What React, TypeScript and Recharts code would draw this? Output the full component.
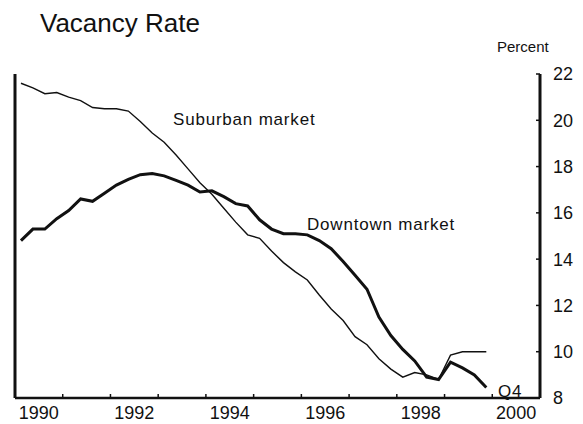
import React from 'react';
import { LineChart, Line, XAxis, YAxis } from 'recharts';

// quarterly, 1990 Q1 .. 1999 Q4
const years = [1990, 1991, 1992, 1993, 1994, 1995, 1996, 1997, 1998, 1999];
const quarterNames = ['Q1', 'Q2', 'Q3', 'Q4'];

const suburban = [
  21.6, 21.4, 21.15, 21.2, 21.0, 20.85, 20.55, 20.5, 20.5, 20.4,
  19.95, 19.45, 19.05, 18.5, 17.9, 17.3, 16.8, 16.2, 15.6, 15.05,
  14.9, 14.35, 13.85, 13.45, 13.1, 12.45, 11.85, 11.35, 10.65, 10.3,
  9.7, 9.25, 8.9, 9.1, 9.0, 8.8, 9.85, 10.0, 10.0, 10.0,
];

const downtown = [
  14.8, 15.3, 15.3, 15.75, 16.1, 16.6, 16.5, 16.85, 17.2, 17.45,
  17.65, 17.7, 17.6, 17.4, 17.2, 16.9, 16.95, 16.7, 16.4, 16.3,
  15.7, 15.3, 15.1, 15.1, 15.05, 14.8, 14.45, 13.9, 13.3, 12.7,
  11.5, 10.7, 10.1, 9.6, 8.9, 8.8, 9.55, 9.3, 9.0, 8.45,
];

const yearTicks = [1991, 1992, 1993, 1994, 1995, 1996, 1997, 1998, 1999, 2000];
const labelTicks = [1990.5, 1992.5, 1994.5, 1996.5, 1998.5, 2000.5];
const percentTicks = [8, 10, 12, 14, 16, 18, 20, 22];

const data = years.flatMap((yr, yi) =>
  quarterNames.map((q, qi) => {
    const i = yi * 4 + qi;
    return {
      label: `${yr} ${q}`,
      t: yr + (qi + 0.5) / 4,
      suburban: suburban[i],
      downtown: downtown[i],
    };
  })
);

const FONT = '"Liberation Sans", Arial, Helvetica, sans-serif';
const INK = '#111';

const RightTick = (props: any) => {
  const { x, y, payload } = props;
  return (
    <g>
      <line x1={x - 17} x2={x - 13} y1={y} y2={y} stroke={INK} strokeWidth={1.5} />
      <text x={x} y={y} dy="0.355em" textAnchor="start" fontSize={18} fill={INK} fontFamily={FONT}>
        {payload.value}
      </text>
    </g>
  );
};

const App: React.FC = () => {
  return (
    <div style={{ position: 'absolute', left: 0, top: 0, width: 583, height: 424, background: '#fff' }}>
      <LineChart
        width={583}
        height={424}
        data={data}
        margin={{ top: 74, right: 0, bottom: 0, left: 15 }}
      >
        <XAxis
          xAxisId="yr"
          dataKey="t"
          type="number"
          domain={[1990, 2001]}
          ticks={yearTicks}
          height={1}
          mirror
          axisLine={false}
          tickSize={4}
          tickLine={{ stroke: INK, strokeWidth: 1.5 }}
          tickFormatter={() => ''}
        />
        <XAxis
          xAxisId="lbl"
          dataKey="t"
          type="number"
          domain={[1990, 2001]}
          ticks={labelTicks}
          height={26}
          tickLine={false}
          tickSize={0}
          tickMargin={8}
          axisLine={{ stroke: INK, strokeWidth: 2.5 }}
          tickFormatter={(v: number) => String(Math.floor(v))}
          tick={{ fontSize: 18, fill: INK, fontFamily: FONT }}
        />
        <YAxis
          yAxisId="l"
          orientation="left"
          domain={[8, 22]}
          ticks={percentTicks}
          width={1}
          mirror
          tickSize={4}
          tickLine={{ stroke: INK, strokeWidth: 1.5 }}
          axisLine={{ stroke: INK, strokeWidth: 3 }}
          tickFormatter={() => ''}
        />
        <YAxis
          yAxisId="r"
          orientation="right"
          domain={[8, 22]}
          ticks={percentTicks}
          width={43}
          tickLine={false}
          tickSize={0}
          tickMargin={13}
          axisLine={{ stroke: INK, strokeWidth: 3 }}
          tick={<RightTick />}
        />
        <Line
          xAxisId="lbl"
          yAxisId="r"
          type="linear"
          dataKey="suburban"
          stroke={INK}
          strokeWidth={1.4}
          dot={false}
          isAnimationActive={false}
        />
        <Line
          xAxisId="lbl"
          yAxisId="r"
          type="linear"
          dataKey="downtown"
          stroke={INK}
          strokeWidth={3}
          dot={false}
          isAnimationActive={false}
        />
      </LineChart>
      <svg
        width={583}
        height={424}
        style={{ position: 'absolute', left: 0, top: 0, pointerEvents: 'none' }}
        fontFamily={FONT}
        fill={INK}
      >
        <text x={40} y={32} fontSize={26}>Vacancy Rate</text>
        <text x={497} y={52} fontSize={15}>Percent</text>
        <text x={173} y={125} fontSize={17} letterSpacing={0.8}>Suburban market</text>
        <text x={307} y={230} fontSize={17} letterSpacing={0.8}>Downtown market</text>
        <text x={498} y={397} fontSize={17} letterSpacing={0.8}>Q4</text>
      </svg>
    </div>
  );
};

export default App;
